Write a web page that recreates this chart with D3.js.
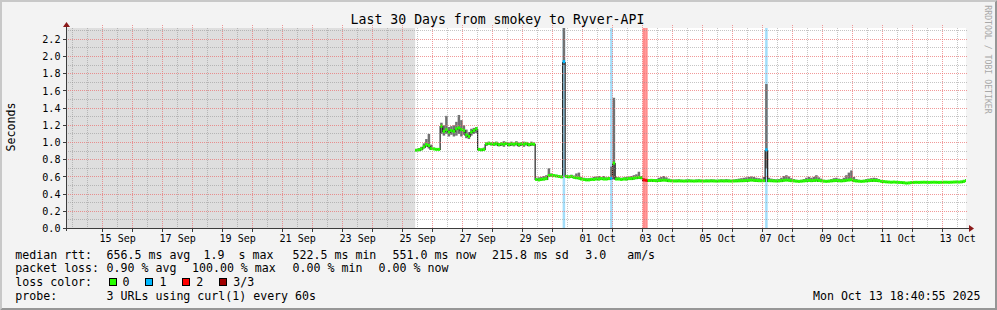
<!DOCTYPE html>
<html>
<head>
<meta charset="utf-8">
<script src="https://cdn.jsdelivr.net/npm/d3@7"></script>
<style>
    body { margin: 0; background: #f3f3f3; }
    svg text { font-family: "DejaVu Sans Mono", monospace; white-space: pre; }
</style>
</head>
<body>
<div id="chart"></div>
<script>
var title = "Last 30 Days from smokey to Ryver-API";
var yLabel = "Seconds";
var watermark = "RRDTOOL / TOBI OETIKER";
var endTime = "2025-10-13T18:40:55Z";
var endLabel = "Mon Oct 13 18:40:55 2025";
var dataStart = "2025-09-25T10:00:00Z";
var stepHours = 2;

var xLabelDays = ["2025-09-15", "2025-09-17", "2025-09-19", "2025-09-21", "2025-09-23",
    "2025-09-25", "2025-09-27", "2025-09-29", "2025-10-01", "2025-10-03", "2025-10-05",
    "2025-10-07", "2025-10-09", "2025-10-11", "2025-10-13"];
var yTickValues = [0, 0.2, 0.4, 0.6, 0.8, 1.0, 1.2, 1.4, 1.6, 1.8, 2.0, 2.2];

// median rtt per 2h sample, ms
var medianMs = [
    910, 915, 925, 950, 975, 965, 930, 925, 920, 920,
    1190, 1130, 1150, 1120, 1140, 1130, 1160, 1170, 1150, 1140,
    1090, 1070, 1120, 1140, 1160, 920, 915, 920, 985, 990,
    985, 980, 990, 975, 985, 980, 990, 975, 985, 980,
    990, 975, 985, 980, 990, 975, 985, 980, 570, 565,
    570, 575, 580, 615, 620, 615, 610, 605, 600, 1940,
    605, 600, 605, 595, 590, 585, 575, 570, 565, 565,
    570, 570, 575, 575, 580, 575, 575, 580, 585, 760,
    575, 575, 570, 575, 575, 580, 580, 585, 590, 595,
    590, 565, 560, 558, 560, 558, 556, 558, 560, 562,
    560, 556, 554, 552, 552, 553, 552, 551, 552, 553,
    552, 551, 552, 553, 552, 551, 552, 552, 553, 552,
    551, 552, 553, 552, 553, 552, 551, 552, 553, 554,
    555, 556, 558, 560, 562, 560, 558, 556, 555, 556,
    915, 556, 555, 553, 552, 553, 556, 560, 562, 560,
    556, 553, 550, 548, 550, 553, 556, 558, 556, 558,
    562, 558, 554, 550, 548, 550, 553, 556, 558, 555,
    553, 556, 560, 563, 566, 556, 552, 550, 548, 550,
    553, 556, 558, 560, 558, 555, 548, 545, 542, 540,
    538, 540, 538, 536, 535, 532, 528, 530, 534, 536,
    537, 536, 537, 538, 537, 536, 537, 538, 537, 536,
    537, 538, 538, 537, 538, 540, 541, 540, 542, 548,
    558
];

// smoke: lowest and highest ping per sample, ms
var smokeLoMs = [
    900, 905, 910, 930, 950, 930, 915, 915, 910, 910,
    1100, 1080, 1100, 1070, 1090, 1070, 1080, 1100, 1070, 1090,
    1050, 1040, 1080, 1100, 1110, 905, 905, 905, 960, 970,
    965, 960, 965, 955, 960, 950, 970, 955, 960, 955,
    965, 950, 960, 950, 965, 955, 960, 960, 560, 555,
    560, 560, 565, 600, 605, 600, 600, 595, 590, 1900,
    595, 590, 590, 585, 580, 575, 565, 560, 555, 555,
    560, 560, 565, 560, 565, 565, 565, 565, 570, 570,
    565, 565, 560, 565, 560, 565, 565, 570, 575, 575,
    575, 550, 550, 548, 550, 548, 546, 548, 550, 552,
    550, 546, 544, 542, 542, 543, 542, 541, 542, 543,
    542, 541, 542, 543, 542, 541, 542, 542, 543, 542,
    541, 542, 543, 542, 543, 542, 541, 542, 543, 544,
    545, 546, 548, 550, 552, 550, 548, 546, 545, 546,
    700, 546, 545, 543, 542, 543, 546, 550, 552, 550,
    546, 543, 540, 538, 540, 543, 546, 548, 546, 548,
    552, 548, 544, 540, 538, 540, 543, 546, 548, 545,
    543, 546, 550, 553, 556, 546, 542, 540, 538, 540,
    543, 546, 548, 550, 548, 545, 538, 535, 532, 530,
    528, 530, 528, 526, 525, 522, 520, 522, 525, 527,
    528, 527, 528, 529, 528, 527, 528, 529, 528, 527,
    528, 529, 529, 528, 529, 530, 531, 530, 532, 538,
    548
];
var smokeHiMs = [
    925, 935, 950, 990, 1040, 1100, 975, 940, 935, 930,
    1230, 1200, 1310, 1180, 1190, 1200, 1240, 1320, 1260, 1200,
    1150, 1120, 1160, 1170, 1180, 935, 930, 940, 1000, 1010,
    1000, 1005, 1010, 995, 1000, 1015, 1005, 1000, 1010, 1000,
    1015, 1000, 1005, 1010, 1005, 995, 1010, 1000, 590, 595,
    600, 610, 620, 700, 640, 630, 625, 620, 615, 2600,
    620, 615, 625, 615, 640, 650, 600, 590, 585, 585,
    590, 600, 605, 610, 600, 610, 595, 600, 720, 1520,
    600, 595, 590, 595, 600, 605, 610, 620, 630, 660,
    610, 580, 575, 570, 575, 572, 575, 590, 600, 610,
    595, 580, 570, 568, 570, 572, 568, 566, 570, 572,
    568, 566, 570, 572, 568, 566, 570, 568, 572, 570,
    566, 568, 572, 570, 574, 570, 566, 570, 575, 580,
    585, 590, 595, 600, 605, 600, 590, 585, 580, 600,
    1680, 590, 580, 575, 572, 575, 590, 610, 620, 605,
    585, 575, 566, 562, 566, 575, 590, 600, 590, 600,
    620, 595, 580, 566, 562, 566, 575, 585, 590, 580,
    575, 590, 620, 650, 675, 600, 575, 566, 562, 566,
    575, 580, 586, 590, 586, 575, 562, 558, 555, 552,
    550, 552, 550, 548, 547, 544, 540, 542, 546, 548,
    549, 548, 549, 550, 549, 548, 549, 550, 549, 548,
    549, 550, 550, 549, 550, 552, 553, 552, 555, 565,
    575
];

// samples with lost pings (of 3)
var lossIndex = [59, 78, 91, 92, 140];
var lossCount = [1, 1, 2, 2, 1];

var lossLabels = ["0", "1", "2", "3/3"];
var lossColors = ["#26ff00", "#00b8ff", "#ff0000", "#a00000"];
var lossBgColors = [null, "#a3defa", "#ff8c8c", "#d99090"];

var rttStats = ["656.5 ms avg", "1.9  s max", "522.5 ms min", "551.0 ms now", "215.8 ms sd", "3.0   am/s"];
var lossStats = ["0.90 % avg", "100.00 % max", "0.00 % min", "0.00 % now"];
var probeText = "3 URLs using curl(1) every 60s";

(function(){
    var W = 997, H = 310;
    var left = 66, right = 966, top = 28, bottom = 228.5;

    var end = new Date(endTime),
        start = d3.utcDay.offset(end, -30),
        t0 = new Date(dataStart),
        stepMs = stepHours * 3600 * 1000;

    var x = d3.scaleUtc().domain([start, end]).range([left, right]);
    var y = d3.scaleLinear().domain([0, (bottom - top) / 86]).range([bottom, top]);

    var lossBy = {};
    lossIndex.forEach(function(idx, k){ lossBy[idx] = lossCount[k]; });

    var samples = medianMs.map(function(m, i){
        return {
            t: new Date(+t0 + i * stepMs),
            t1: new Date(+t0 + (i + 1) * stepMs),
            med: m / 1000,
            lo: smokeLoMs[i] / 1000,
            hi: smokeHiMs[i] / 1000,
            loss: lossBy[i] || 0
        };
    });

    var svg = d3.select("#chart").append("svg")
        .attr("width", W)
        .attr("height", H);

    // background + frame
    svg.append("rect").attr("width", W).attr("height", H).attr("fill", "#f3f3f3");
    svg.append("polygon").attr("points", "0,0 997,0 995,2 2,2 2,308 0,310").attr("fill", "#c8c8c8");
    svg.append("polygon").attr("points", "997,0 997,310 0,310 2,308 995,308 995,2").attr("fill", "#969696");

    svg.append("defs").append("clipPath").attr("id", "plotclip")
        .append("rect").attr("x", left).attr("y", top).attr("width", right - left).attr("height", bottom - top);

    // canvas
    svg.append("rect").attr("x", left).attr("y", top)
        .attr("width", right - left).attr("height", bottom - top)
        .attr("fill", "#ffffff");
    // no data yet
    svg.append("rect").attr("x", left).attr("y", top)
        .attr("width", x(t0) - left).attr("height", bottom - top)
        .attr("fill", "#dedede");

    var plot = svg.append("g").attr("clip-path", "url(#plotclip)");

    // grid
    var grid = svg.append("g").attr("shape-rendering", "crispEdges");
    var firstDay = d3.utcDay.ceil(start);
    var halfDays = d3.utcHour.every(12).range(start, end).filter(function(d){
        return d.getUTCHours() === 12 || +d === +firstDay;
    });
    var days = d3.utcDay.range(d3.utcDay.offset(firstDay, 1), end);
    var minorY = d3.range(1, 24).filter(function(v){ return v % 2 === 1; }).map(function(v){ return v / 10; });

    grid.selectAll("line.vminor").data(halfDays).enter().append("line")
        .attr("x1", function(d){ return Math.floor(x(d)) + 0.5; })
        .attr("x2", function(d){ return Math.floor(x(d)) + 0.5; })
        .attr("y1", top).attr("y2", bottom)
        .attr("stroke", "rgba(140,140,140,0.5)").attr("stroke-dasharray", "1,1");
    grid.selectAll("line.hminor").data(minorY).enter().append("line")
        .attr("x1", left).attr("x2", right + 1)
        .attr("y1", function(d){ return Math.floor(y(d)) + 0.5; })
        .attr("y2", function(d){ return Math.floor(y(d)) + 0.5; })
        .attr("stroke", "rgba(140,140,140,0.5)").attr("stroke-dasharray", "1,1");
    grid.selectAll("line.vmajor").data(days).enter().append("line")
        .attr("x1", function(d){ return Math.floor(x(d)) + 0.5; })
        .attr("x2", function(d){ return Math.floor(x(d)) + 0.5; })
        .attr("y1", top - 3).attr("y2", bottom)
        .attr("stroke", "rgba(235,110,110,0.7)").attr("stroke-dasharray", "1,1");
    grid.selectAll("line.hmajor").data(yTickValues.slice(1)).enter().append("line")
        .attr("x1", left).attr("x2", right + 1)
        .attr("y1", function(d){ return Math.floor(y(d)) + 0.5; })
        .attr("y2", function(d){ return Math.floor(y(d)) + 0.5; })
        .attr("stroke", "rgba(235,110,110,0.7)").attr("stroke-dasharray", "1,1");

    // loss background
    plot.selectAll("rect.lossbg").data(samples.filter(function(d){ return d.loss > 0; }))
        .enter().append("rect")
        .attr("x", function(d){ return x(d.t); })
        .attr("width", function(d){ return x(d.t1) - x(d.t); })
        .attr("y", top).attr("height", bottom - top)
        .attr("fill", function(d){ return lossBgColors[d.loss]; });

    // smoke
    plot.selectAll("rect.smoke").data(samples).enter().append("rect")
        .attr("x", function(d){ return x(d.t); })
        .attr("width", function(d){ return x(d.t1) - x(d.t); })
        .attr("y", function(d){ return y(d.hi); })
        .attr("height", function(d){ return y(d.lo) - y(d.hi); })
        .attr("fill", "#717171");

    // median line
    var pts = samples.concat([{t: samples[samples.length - 1].t1, med: samples[samples.length - 1].med}]);
    var line = d3.line()
        .x(function(d){ return x(d.t); })
        .y(function(d){ return Math.round(y(d.med)) + 0.5; })
        .curve(d3.curveStepAfter);
    plot.append("path").datum(pts)
        .attr("d", line)
        .attr("fill", "none")
        .attr("stroke", "#202020")
        .attr("stroke-width", 1.2);

    // median coloured by loss
    plot.selectAll("rect.med").data(samples).enter().append("rect")
        .attr("x", function(d){ return x(d.t); })
        .attr("width", function(d){ return x(d.t1) - x(d.t); })
        .attr("y", function(d){ return y(d.med) - 1.5; })
        .attr("height", 3)
        .attr("fill", function(d){ return lossColors[d.loss]; });

    // axes
    var axes = svg.append("g").attr("shape-rendering", "crispEdges");
    axes.append("line").attr("x1", left + 0.5).attr("x2", left + 0.5)
        .attr("y1", top - 2).attr("y2", bottom + 2).attr("stroke", "#3c3c3c");
    axes.append("line").attr("x1", left - 3).attr("x2", right + 4)
        .attr("y1", bottom).attr("y2", bottom).attr("stroke", "#3c3c3c");
    axes.selectAll("line.ytick").data(yTickValues).enter().append("line")
        .attr("x1", left - 3).attr("x2", left)
        .attr("y1", function(d){ return Math.floor(y(d)) + 0.5; })
        .attr("y2", function(d){ return Math.floor(y(d)) + 0.5; })
        .attr("stroke", "#3c3c3c");
    axes.selectAll("line.xtick").data(days).enter().append("line")
        .attr("x1", function(d){ return Math.floor(x(d)) + 0.5; })
        .attr("x2", function(d){ return Math.floor(x(d)) + 0.5; })
        .attr("y1", bottom).attr("y2", bottom + 3)
        .attr("stroke", "#3c3c3c");
    // arrows
    svg.append("path").attr("d", "M" + (left + 0.5) + "," + (top - 6) + "l3.5,5h-7z").attr("fill", "#8b1a1a");
    svg.append("path").attr("d", "M" + (right + 8) + "," + bottom + "l-5,-3.5v7z").attr("fill", "#8b1a1a");

    // tick labels
    var fmt = d3.utcFormat("%d %b");
    svg.selectAll("text.xl").data(xLabelDays).enter().append("text")
        .attr("x", function(d){ return x(d3.utcHour.offset(new Date(d + "T00:00:00Z"), 12)); })
        .attr("y", 241.5)
        .attr("text-anchor", "middle")
        .attr("font-size", "10.1px")
        .text(function(d){ return fmt(new Date(d + "T00:00:00Z")); });
    svg.selectAll("text.yl").data(yTickValues).enter().append("text")
        .attr("x", 60.5)
        .attr("y", function(d){ return y(d) + 3.6; })
        .attr("text-anchor", "end")
        .attr("font-size", "10.1px")
        .text(function(d){ return d3.format(".1f")(d); });

    // titles
    svg.append("text").attr("x", 497.5).attr("y", 24)
        .attr("text-anchor", "middle").attr("font-size", "13.2px")
        .text(title);
    svg.append("text").attr("transform", "translate(14.5,127) rotate(-90)")
        .attr("text-anchor", "middle").attr("font-size", "11.6px")
        .text(yLabel);
    svg.append("text").attr("transform", "translate(985,59.5) rotate(90)")
        .attr("text-anchor", "middle").attr("font-size", "8.2px")
        .attr("fill", "#a8a8a8")
        .text(watermark);

    // legend
    var lg = svg.append("g").attr("font-size", "11.6px");
    var rows = [258.5, 272.3, 286.1, 299.9];
    var rttX = [106.6, 203.6, 292.6, 392.6, 492, 585.3];
    var lossX = [106.6, 192, 292.6, 378.6];

    lg.append("text").attr("x", 15.3).attr("y", rows[0]).text("median rtt:");
    lg.selectAll("text.rtt").data(rttStats).enter().append("text")
        .attr("x", function(d, i){ return rttX[i]; }).attr("y", rows[0])
        .text(function(d){ return d; });

    lg.append("text").attr("x", 15.3).attr("y", rows[1]).text("packet loss:");
    lg.selectAll("text.loss").data(lossStats).enter().append("text")
        .attr("x", function(d, i){ return lossX[i]; }).attr("y", rows[1])
        .text(function(d){ return d; });

    lg.append("text").attr("x", 15.3).attr("y", rows[2]).text("loss color:");
    var sw = lg.selectAll("g.sw").data(lossLabels).enter().append("g")
        .attr("transform", function(d, i){ return "translate(" + (108.5 + i * 36.9) + ",0)"; });
    sw.append("rect").attr("x", 0.5).attr("y", 278.5).attr("width", 7).attr("height", 7)
        .attr("fill", function(d, i){ return lossColors[i]; })
        .attr("stroke", "#000").attr("shape-rendering", "crispEdges");
    sw.append("text").attr("x", 14).attr("y", rows[2]).text(function(d){ return d; });

    lg.append("text").attr("x", 15.3).attr("y", rows[3]).text("probe:");
    lg.append("text").attr("x", 106.6).attr("y", rows[3]).text(probeText);
    lg.append("text").attr("x", 980.5).attr("y", rows[3]).attr("text-anchor", "end").text(endLabel);
}());
</script>
</body>
</html>
